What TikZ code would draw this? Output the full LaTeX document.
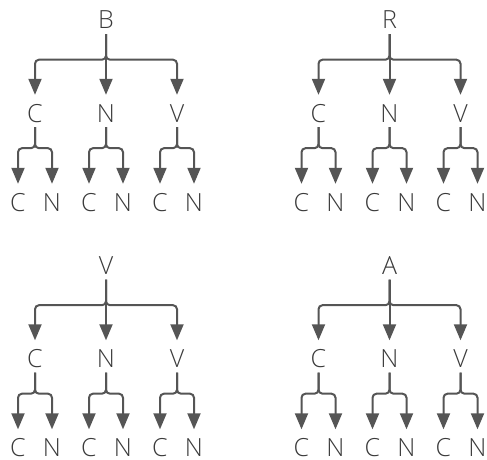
\documentclass[tikz,border=0pt]{standalone}
\usepackage{fontspec}
\setmainfont{Open Sans}[UprightFont=* Light]
\usetikzlibrary{arrows.meta}
\definecolor{ink}{HTML}{555555}
\definecolor{txt}{HTML}{3A3A3A}
\begin{document}
\begin{tikzpicture}[x=1pt,y=-1pt,
  lbl/.style={anchor=base, inner sep=0pt, text height=27pt, text depth=5pt,
    font=\fontsize{25}{25}\selectfont, text=txt},
  leaf/.style={lbl, text depth=0pt},
  conn/.style={draw=ink, line width=2pt, rounded corners=4pt,
    -{Triangle[width=13pt,length=16pt]}},
]
\useasboundingbox (0,0) rectangle (487,460);
\foreach \p/\sx/\sy/\r in {a/0/0/B, b/283.5/0/R, c/0/245.5/V, d/283.5/245.5/A}{
  \begin{scope}[shift={(\sx,\sy)}]
    \node[lbl] (\p-r) at (106,29) {\r};
    \node[lbl] (\p-1) at (35,122) {C};
    \node[lbl] (\p-2) at (106,122) {N};
    \node[lbl] (\p-3) at (177,122) {V};
    \node[leaf] (\p-1a) at (18,211) {C};
    \node[leaf] (\p-1b) at (52,211) {N};
    \node[leaf] (\p-2a) at (89,211) {C};
    \node[leaf] (\p-2b) at (123,211) {N};
    \node[leaf] (\p-3a) at (160,211) {C};
    \node[leaf] (\p-3b) at (194,211) {N};
    \draw[conn] (\p-r.south) -- ++(0,25.5) -| (\p-1.north);
    \draw[conn] (\p-r.south) -- (\p-2.north);
    \draw[conn] (\p-r.south) -- ++(0,25.5) -| (\p-3.north);
    \foreach \k in {1,2,3}{
      \draw[conn] (\p-\k.south) -- ++(0,21) -| (\p-\k a.north);
      \draw[conn] (\p-\k.south) -- ++(0,21) -| (\p-\k b.north);
    }
  \end{scope}
}
\end{tikzpicture}
\end{document}
